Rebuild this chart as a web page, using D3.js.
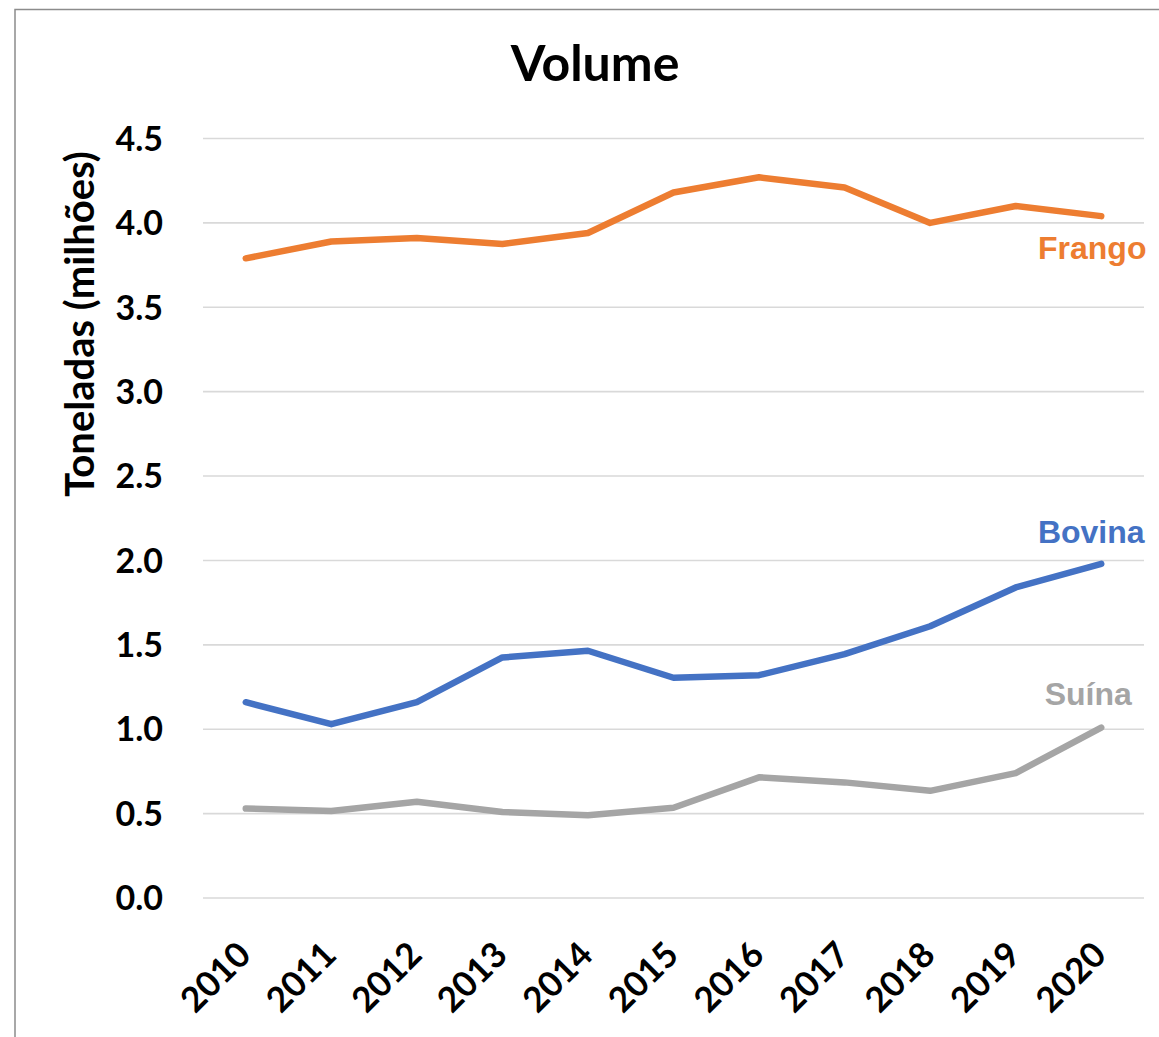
<!DOCTYPE html>
<html>
<head>
<meta charset="utf-8">
<script src="https://cdn.jsdelivr.net/npm/d3@7"></script>
<style>
  html, body { margin: 0; padding: 0; background: #fff; }
  svg { display: block; }
</style>
</head>
<body>
<svg id="chart" width="1159" height="1037"></svg>
<script>
const years = ["2010","2011","2012","2013","2014","2015","2016","2017","2018","2019","2020"];
const frango = [3.79, 3.89, 3.91, 3.875, 3.94, 4.18, 4.27, 4.21, 4.00, 4.10, 4.04];
const bovina = [1.16, 1.03, 1.16, 1.425, 1.465, 1.305, 1.32, 1.445, 1.61, 1.84, 1.98];
const suina  = [0.53, 0.515, 0.57, 0.51, 0.49, 0.535, 0.715, 0.685, 0.635, 0.74, 1.01];
const yTicks = [0, 0.5, 1.0, 1.5, 2.0, 2.5, 3.0, 3.5, 4.0, 4.5];
const seriesNames = ["Frango", "Bovina", "Suína"];
const seriesColors = ["#ED7D31", "#4472C4", "#A5A5A5"];

const series = [
  { name: seriesNames[0], values: frango, color: seriesColors[0], lx: -9, ly: 43 },
  { name: seriesNames[1], values: bovina, color: seriesColors[1], lx: -10, ly: -21 },
  { name: seriesNames[2], values: suina,  color: seriesColors[2], lx: -13, ly: -23 }
];

const svg = d3.select("#chart");
const plot = { left: 203, right: 1144, top: 138.5, bottom: 898 };

// outer frame (extends past the right/bottom edge as in the reference)
svg.append("rect")
  .attr("x", 15).attr("y", 9.5)
  .attr("width", 1170).attr("height", 1060)
  .attr("fill", "none").attr("stroke", "#8c8c8c").attr("stroke-width", 1.5);

const x = d3.scalePoint().domain(years).range([plot.left, plot.right]).padding(0.5);
const y = d3.scaleLinear().domain([0, 4.5]).range([plot.bottom, plot.top]);

const font = "Lato, 'Open Sans', sans-serif";

// gridlines
svg.append("g").selectAll("line").data(yTicks).join("line")
  .attr("x1", plot.left).attr("x2", plot.right)
  .attr("y1", d => y(d)).attr("y2", d => y(d))
  .attr("stroke", "#d9d9d9").attr("stroke-width", 1.6);

// y tick labels
svg.append("g").selectAll("text").data(yTicks).join("text")
  .attr("x", 163).attr("y", d => y(d))
  .attr("dy", "0.36em")
  .attr("text-anchor", "end")
  .attr("font-family", font).attr("font-weight", 700).attr("font-size", 34)
  .attr("fill", "#000")
  .text(d => d.toFixed(1));

// x tick labels
svg.append("g").selectAll("text").data(years).join("text")
  .attr("transform", d => `translate(${x(d) + 7},957) rotate(-45)`)
  .attr("text-anchor", "end")
  .attr("font-family", font).attr("font-weight", 700).attr("font-size", 35)
  .attr("fill", "#000")
  .text(d => d);

// y axis title
svg.append("text")
  .attr("transform", `translate(94,324) rotate(-90)`)
  .attr("text-anchor", "middle")
  .attr("font-family", font).attr("font-weight", 700).attr("font-size", 40)
  .attr("fill", "#000")
  .text("Toneladas (milhões)");

// title
svg.append("text")
  .attr("x", 595).attr("y", 81)
  .attr("text-anchor", "middle")
  .attr("font-family", font).attr("font-weight", 700).attr("font-size", 50)
  .attr("fill", "#000")
  .text("Volume");

// lines
const line = d3.line().x((d, i) => x(years[i])).y(d => y(d));
svg.append("g").selectAll("path").data(series).join("path")
  .attr("d", d => line(d.values))
  .attr("fill", "none")
  .attr("stroke", d => d.color)
  .attr("stroke-width", 6.5)
  .attr("stroke-linecap", "round")
  .attr("stroke-linejoin", "round");

// series labels
svg.append("g").selectAll("text").data(series).join("text")
  .attr("x", d => x(years[years.length - 1]) + d.lx)
  .attr("y", d => y(d.values[d.values.length - 1]) + d.ly)
  .attr("text-anchor", "middle")
  .attr("font-family", "'Liberation Sans', Arial, sans-serif")
  .attr("font-weight", 700).attr("font-size", 32)
  .attr("fill", d => d.color)
  .text(d => d.name);
</script>
</body>
</html>
